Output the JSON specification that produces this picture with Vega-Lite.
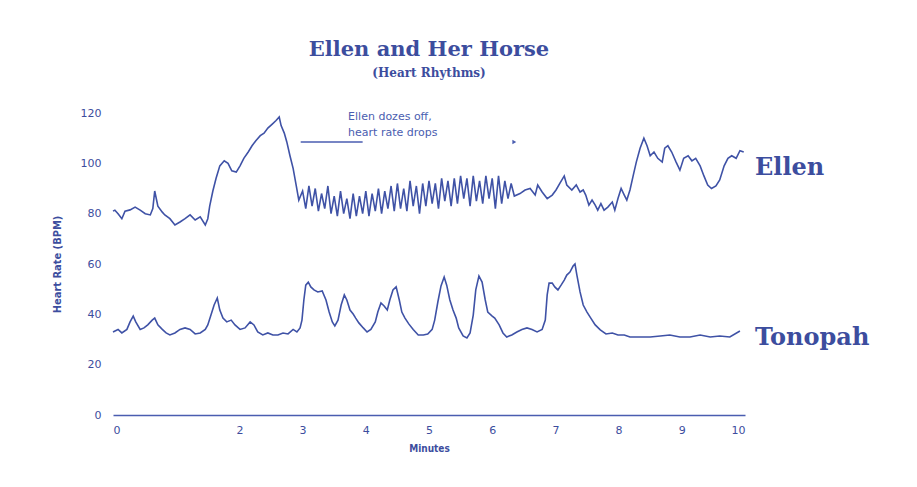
{
  "$schema": "https://vega.github.io/schema/vega-lite/v6.json",
  "width": 632,
  "height": 302,
  "autosize": "none",
  "padding": {"left": 113, "top": 113, "right": 172, "bottom": 72},
  "background": "white",
  "title": {
    "text": "Ellen and Her Horse",
    "subtitle": "(Heart Rhythms)",
    "anchor": "middle",
    "font": "DejaVu Serif",
    "fontSize": 21,
    "fontWeight": "bold",
    "color": "#3c4d9e",
    "subtitleFont": "DejaVu Serif",
    "subtitleFontSize": 12,
    "subtitleFontWeight": "bold",
    "subtitleColor": "#3c4d9e",
    "subtitlePadding": 8,
    "offset": 28
  },
  "config": {
    "view": {"stroke": null},
    "axis": {
      "labelColor": "#3c4d9e",
      "titleColor": "#3c4d9e",
      "labelFont": "DejaVu Sans",
      "titleFont": "DejaVu Sans Condensed",
      "labelFontSize": 11,
      "titleFontSize": 11,
      "titleFontWeight": "bold",
      "grid": false
    }
  },
  "datasets": {
    "hr": [
      {"series": "Ellen", "m": 0.00, "bpm": 81},
      {"series": "Ellen", "m": 0.03, "bpm": 81.4},
      {"series": "Ellen", "m": 0.08, "bpm": 80},
      {"series": "Ellen", "m": 0.14, "bpm": 78},
      {"series": "Ellen", "m": 0.19, "bpm": 81},
      {"series": "Ellen", "m": 0.27, "bpm": 81.5},
      {"series": "Ellen", "m": 0.35, "bpm": 82.6},
      {"series": "Ellen", "m": 0.43, "bpm": 81.4},
      {"series": "Ellen", "m": 0.51, "bpm": 80},
      {"series": "Ellen", "m": 0.59, "bpm": 79.5},
      {"series": "Ellen", "m": 0.63, "bpm": 82},
      {"series": "Ellen", "m": 0.66, "bpm": 89},
      {"series": "Ellen", "m": 0.71, "bpm": 83},
      {"series": "Ellen", "m": 0.78, "bpm": 80.6},
      {"series": "Ellen", "m": 0.82, "bpm": 79.5},
      {"series": "Ellen", "m": 0.90, "bpm": 78},
      {"series": "Ellen", "m": 0.98, "bpm": 75.5},
      {"series": "Ellen", "m": 1.06, "bpm": 76.7},
      {"series": "Ellen", "m": 1.14, "bpm": 78},
      {"series": "Ellen", "m": 1.22, "bpm": 79.5},
      {"series": "Ellen", "m": 1.30, "bpm": 77.5},
      {"series": "Ellen", "m": 1.38, "bpm": 78.7},
      {"series": "Ellen", "m": 1.46, "bpm": 75.5},
      {"series": "Ellen", "m": 1.50, "bpm": 78},
      {"series": "Ellen", "m": 1.53, "bpm": 83},
      {"series": "Ellen", "m": 1.58, "bpm": 89},
      {"series": "Ellen", "m": 1.63, "bpm": 94},
      {"series": "Ellen", "m": 1.69, "bpm": 99},
      {"series": "Ellen", "m": 1.76, "bpm": 101},
      {"series": "Ellen", "m": 1.82, "bpm": 100},
      {"series": "Ellen", "m": 1.88, "bpm": 97},
      {"series": "Ellen", "m": 1.95, "bpm": 96.5},
      {"series": "Ellen", "m": 2.01, "bpm": 99},
      {"series": "Ellen", "m": 2.07, "bpm": 102},
      {"series": "Ellen", "m": 2.14, "bpm": 104.5},
      {"series": "Ellen", "m": 2.20, "bpm": 107},
      {"series": "Ellen", "m": 2.26, "bpm": 109},
      {"series": "Ellen", "m": 2.33, "bpm": 111},
      {"series": "Ellen", "m": 2.39, "bpm": 112},
      {"series": "Ellen", "m": 2.45, "bpm": 114},
      {"series": "Ellen", "m": 2.52, "bpm": 115.6},
      {"series": "Ellen", "m": 2.58, "bpm": 117},
      {"series": "Ellen", "m": 2.63, "bpm": 118.4},
      {"series": "Ellen", "m": 2.66, "bpm": 115},
      {"series": "Ellen", "m": 2.71, "bpm": 112},
      {"series": "Ellen", "m": 2.75, "bpm": 108.5},
      {"series": "Ellen", "m": 2.80, "bpm": 103},
      {"series": "Ellen", "m": 2.85, "bpm": 98},
      {"series": "Ellen", "m": 2.90, "bpm": 91},
      {"series": "Ellen", "m": 2.94, "bpm": 85.4},
      {"series": "Ellen", "m": 3.00, "bpm": 89},
      {"series": "Ellen", "m": 3.05, "bpm": 82},
      {"series": "Ellen", "m": 3.10, "bpm": 91},
      {"series": "Ellen", "m": 3.15, "bpm": 83},
      {"series": "Ellen", "m": 3.20, "bpm": 90},
      {"series": "Ellen", "m": 3.25, "bpm": 81},
      {"series": "Ellen", "m": 3.30, "bpm": 88},
      {"series": "Ellen", "m": 3.35, "bpm": 82},
      {"series": "Ellen", "m": 3.40, "bpm": 91},
      {"series": "Ellen", "m": 3.45, "bpm": 80},
      {"series": "Ellen", "m": 3.50, "bpm": 87},
      {"series": "Ellen", "m": 3.55, "bpm": 79},
      {"series": "Ellen", "m": 3.60, "bpm": 89},
      {"series": "Ellen", "m": 3.65, "bpm": 80},
      {"series": "Ellen", "m": 3.70, "bpm": 86},
      {"series": "Ellen", "m": 3.75, "bpm": 78},
      {"series": "Ellen", "m": 3.80, "bpm": 88},
      {"series": "Ellen", "m": 3.85, "bpm": 79},
      {"series": "Ellen", "m": 3.90, "bpm": 87},
      {"series": "Ellen", "m": 3.95, "bpm": 80},
      {"series": "Ellen", "m": 4.00, "bpm": 89},
      {"series": "Ellen", "m": 4.05, "bpm": 79},
      {"series": "Ellen", "m": 4.10, "bpm": 88},
      {"series": "Ellen", "m": 4.15, "bpm": 81},
      {"series": "Ellen", "m": 4.20, "bpm": 90},
      {"series": "Ellen", "m": 4.25, "bpm": 80},
      {"series": "Ellen", "m": 4.30, "bpm": 89},
      {"series": "Ellen", "m": 4.35, "bpm": 82},
      {"series": "Ellen", "m": 4.40, "bpm": 91},
      {"series": "Ellen", "m": 4.45, "bpm": 81},
      {"series": "Ellen", "m": 4.50, "bpm": 92},
      {"series": "Ellen", "m": 4.55, "bpm": 82},
      {"series": "Ellen", "m": 4.60, "bpm": 90},
      {"series": "Ellen", "m": 4.65, "bpm": 81},
      {"series": "Ellen", "m": 4.70, "bpm": 93},
      {"series": "Ellen", "m": 4.75, "bpm": 83},
      {"series": "Ellen", "m": 4.80, "bpm": 91},
      {"series": "Ellen", "m": 4.85, "bpm": 80},
      {"series": "Ellen", "m": 4.90, "bpm": 92},
      {"series": "Ellen", "m": 4.95, "bpm": 83},
      {"series": "Ellen", "m": 5.00, "bpm": 93},
      {"series": "Ellen", "m": 5.05, "bpm": 84},
      {"series": "Ellen", "m": 5.10, "bpm": 92},
      {"series": "Ellen", "m": 5.15, "bpm": 82},
      {"series": "Ellen", "m": 5.20, "bpm": 94},
      {"series": "Ellen", "m": 5.25, "bpm": 85},
      {"series": "Ellen", "m": 5.30, "bpm": 93},
      {"series": "Ellen", "m": 5.35, "bpm": 83},
      {"series": "Ellen", "m": 5.40, "bpm": 94},
      {"series": "Ellen", "m": 5.45, "bpm": 84},
      {"series": "Ellen", "m": 5.50, "bpm": 95},
      {"series": "Ellen", "m": 5.55, "bpm": 86},
      {"series": "Ellen", "m": 5.60, "bpm": 94},
      {"series": "Ellen", "m": 5.65, "bpm": 83},
      {"series": "Ellen", "m": 5.70, "bpm": 95},
      {"series": "Ellen", "m": 5.75, "bpm": 85},
      {"series": "Ellen", "m": 5.80, "bpm": 93},
      {"series": "Ellen", "m": 5.85, "bpm": 84},
      {"series": "Ellen", "m": 5.90, "bpm": 95},
      {"series": "Ellen", "m": 5.95, "bpm": 86},
      {"series": "Ellen", "m": 6.00, "bpm": 94},
      {"series": "Ellen", "m": 6.05, "bpm": 82},
      {"series": "Ellen", "m": 6.10, "bpm": 95},
      {"series": "Ellen", "m": 6.15, "bpm": 84},
      {"series": "Ellen", "m": 6.20, "bpm": 93},
      {"series": "Ellen", "m": 6.25, "bpm": 86},
      {"series": "Ellen", "m": 6.30, "bpm": 92},
      {"series": "Ellen", "m": 6.35, "bpm": 87},
      {"series": "Ellen", "m": 6.44, "bpm": 88},
      {"series": "Ellen", "m": 6.52, "bpm": 89.4},
      {"series": "Ellen", "m": 6.60, "bpm": 90},
      {"series": "Ellen", "m": 6.68, "bpm": 87.4},
      {"series": "Ellen", "m": 6.72, "bpm": 91.4},
      {"series": "Ellen", "m": 6.79, "bpm": 88.6},
      {"series": "Ellen", "m": 6.87, "bpm": 86},
      {"series": "Ellen", "m": 6.95, "bpm": 87.4},
      {"series": "Ellen", "m": 7.01, "bpm": 89.4},
      {"series": "Ellen", "m": 7.07, "bpm": 92},
      {"series": "Ellen", "m": 7.14, "bpm": 95},
      {"series": "Ellen", "m": 7.18, "bpm": 91.4},
      {"series": "Ellen", "m": 7.26, "bpm": 89.4},
      {"series": "Ellen", "m": 7.33, "bpm": 91.4},
      {"series": "Ellen", "m": 7.39, "bpm": 88.6},
      {"series": "Ellen", "m": 7.44, "bpm": 89.4},
      {"series": "Ellen", "m": 7.48, "bpm": 87.4},
      {"series": "Ellen", "m": 7.53, "bpm": 83.4},
      {"series": "Ellen", "m": 7.58, "bpm": 85.4},
      {"series": "Ellen", "m": 7.63, "bpm": 83.4},
      {"series": "Ellen", "m": 7.67, "bpm": 81.4},
      {"series": "Ellen", "m": 7.72, "bpm": 84},
      {"series": "Ellen", "m": 7.77, "bpm": 81.4},
      {"series": "Ellen", "m": 7.83, "bpm": 82.6},
      {"series": "Ellen", "m": 7.90, "bpm": 84.6},
      {"series": "Ellen", "m": 7.94, "bpm": 81.4},
      {"series": "Ellen", "m": 7.99, "bpm": 86},
      {"series": "Ellen", "m": 8.04, "bpm": 90},
      {"series": "Ellen", "m": 8.09, "bpm": 87.4},
      {"series": "Ellen", "m": 8.13, "bpm": 85.4},
      {"series": "Ellen", "m": 8.18, "bpm": 89.4},
      {"series": "Ellen", "m": 8.23, "bpm": 95},
      {"series": "Ellen", "m": 8.28, "bpm": 100.5},
      {"series": "Ellen", "m": 8.34, "bpm": 106},
      {"series": "Ellen", "m": 8.40, "bpm": 110},
      {"series": "Ellen", "m": 8.45, "bpm": 107},
      {"series": "Ellen", "m": 8.50, "bpm": 103},
      {"series": "Ellen", "m": 8.56, "bpm": 104.5},
      {"series": "Ellen", "m": 8.62, "bpm": 102},
      {"series": "Ellen", "m": 8.69, "bpm": 100.5},
      {"series": "Ellen", "m": 8.73, "bpm": 106},
      {"series": "Ellen", "m": 8.78, "bpm": 107},
      {"series": "Ellen", "m": 8.84, "bpm": 104.5},
      {"series": "Ellen", "m": 8.91, "bpm": 100.5},
      {"series": "Ellen", "m": 8.97, "bpm": 97.3},
      {"series": "Ellen", "m": 9.03, "bpm": 102},
      {"series": "Ellen", "m": 9.10, "bpm": 103},
      {"series": "Ellen", "m": 9.16, "bpm": 101},
      {"series": "Ellen", "m": 9.22, "bpm": 102},
      {"series": "Ellen", "m": 9.29, "bpm": 99},
      {"series": "Ellen", "m": 9.35, "bpm": 95},
      {"series": "Ellen", "m": 9.41, "bpm": 91.4},
      {"series": "Ellen", "m": 9.47, "bpm": 90},
      {"series": "Ellen", "m": 9.54, "bpm": 91},
      {"series": "Ellen", "m": 9.60, "bpm": 93.4},
      {"series": "Ellen", "m": 9.67, "bpm": 99},
      {"series": "Ellen", "m": 9.73, "bpm": 102},
      {"series": "Ellen", "m": 9.79, "bpm": 103},
      {"series": "Ellen", "m": 9.86, "bpm": 102},
      {"series": "Ellen", "m": 9.92, "bpm": 105},
      {"series": "Ellen", "m": 9.98, "bpm": 104.5},
      {"series": "Tonopah", "m": 0.00, "bpm": 33},
      {"series": "Tonopah", "m": 0.08, "bpm": 34},
      {"series": "Tonopah", "m": 0.14, "bpm": 32.6},
      {"series": "Tonopah", "m": 0.22, "bpm": 34},
      {"series": "Tonopah", "m": 0.27, "bpm": 37},
      {"series": "Tonopah", "m": 0.32, "bpm": 39.3},
      {"series": "Tonopah", "m": 0.36, "bpm": 37},
      {"series": "Tonopah", "m": 0.43, "bpm": 34},
      {"series": "Tonopah", "m": 0.49, "bpm": 34.6},
      {"series": "Tonopah", "m": 0.55, "bpm": 35.8},
      {"series": "Tonopah", "m": 0.62, "bpm": 37.7},
      {"series": "Tonopah", "m": 0.66, "bpm": 38.5},
      {"series": "Tonopah", "m": 0.71, "bpm": 35.8},
      {"series": "Tonopah", "m": 0.78, "bpm": 34},
      {"series": "Tonopah", "m": 0.84, "bpm": 32.6},
      {"series": "Tonopah", "m": 0.90, "bpm": 31.8},
      {"series": "Tonopah", "m": 0.98, "bpm": 32.6},
      {"series": "Tonopah", "m": 1.06, "bpm": 34},
      {"series": "Tonopah", "m": 1.14, "bpm": 34.6},
      {"series": "Tonopah", "m": 1.22, "bpm": 34},
      {"series": "Tonopah", "m": 1.30, "bpm": 32.2},
      {"series": "Tonopah", "m": 1.38, "bpm": 32.6},
      {"series": "Tonopah", "m": 1.46, "bpm": 34},
      {"series": "Tonopah", "m": 1.50, "bpm": 35.8},
      {"series": "Tonopah", "m": 1.55, "bpm": 39.7},
      {"series": "Tonopah", "m": 1.60, "bpm": 43.7},
      {"series": "Tonopah", "m": 1.65, "bpm": 46.5},
      {"series": "Tonopah", "m": 1.69, "bpm": 41.7},
      {"series": "Tonopah", "m": 1.74, "bpm": 38.5},
      {"series": "Tonopah", "m": 1.80, "bpm": 37},
      {"series": "Tonopah", "m": 1.87, "bpm": 37.7},
      {"series": "Tonopah", "m": 1.93, "bpm": 35.8},
      {"series": "Tonopah", "m": 2.01, "bpm": 34},
      {"series": "Tonopah", "m": 2.09, "bpm": 34.6},
      {"series": "Tonopah", "m": 2.17, "bpm": 37},
      {"series": "Tonopah", "m": 2.23, "bpm": 35.8},
      {"series": "Tonopah", "m": 2.29, "bpm": 33},
      {"series": "Tonopah", "m": 2.37, "bpm": 31.8},
      {"series": "Tonopah", "m": 2.45, "bpm": 32.6},
      {"series": "Tonopah", "m": 2.53, "bpm": 31.8},
      {"series": "Tonopah", "m": 2.61, "bpm": 31.8},
      {"series": "Tonopah", "m": 2.69, "bpm": 32.6},
      {"series": "Tonopah", "m": 2.77, "bpm": 32.2},
      {"series": "Tonopah", "m": 2.85, "bpm": 34},
      {"series": "Tonopah", "m": 2.91, "bpm": 33},
      {"series": "Tonopah", "m": 2.96, "bpm": 34.6},
      {"series": "Tonopah", "m": 2.99, "bpm": 37.7},
      {"series": "Tonopah", "m": 3.02, "bpm": 45.7},
      {"series": "Tonopah", "m": 3.05, "bpm": 51.6},
      {"series": "Tonopah", "m": 3.09, "bpm": 52.8},
      {"series": "Tonopah", "m": 3.13, "bpm": 50.9},
      {"series": "Tonopah", "m": 3.18, "bpm": 49.7},
      {"series": "Tonopah", "m": 3.24, "bpm": 48.9},
      {"series": "Tonopah", "m": 3.31, "bpm": 49.3},
      {"series": "Tonopah", "m": 3.37, "bpm": 45.7},
      {"series": "Tonopah", "m": 3.42, "bpm": 40.9},
      {"series": "Tonopah", "m": 3.47, "bpm": 37},
      {"series": "Tonopah", "m": 3.51, "bpm": 35.4},
      {"series": "Tonopah", "m": 3.56, "bpm": 37.7},
      {"series": "Tonopah", "m": 3.61, "bpm": 43.7},
      {"series": "Tonopah", "m": 3.66, "bpm": 47.7},
      {"series": "Tonopah", "m": 3.70, "bpm": 45.7},
      {"series": "Tonopah", "m": 3.75, "bpm": 41.7},
      {"series": "Tonopah", "m": 3.80, "bpm": 40.1},
      {"series": "Tonopah", "m": 3.84, "bpm": 38.5},
      {"series": "Tonopah", "m": 3.89, "bpm": 36.6},
      {"series": "Tonopah", "m": 3.96, "bpm": 34.6},
      {"series": "Tonopah", "m": 4.02, "bpm": 33},
      {"series": "Tonopah", "m": 4.08, "bpm": 34},
      {"series": "Tonopah", "m": 4.15, "bpm": 37},
      {"series": "Tonopah", "m": 4.19, "bpm": 40.9},
      {"series": "Tonopah", "m": 4.24, "bpm": 44.5},
      {"series": "Tonopah", "m": 4.29, "bpm": 43.3},
      {"series": "Tonopah", "m": 4.34, "bpm": 41.7},
      {"series": "Tonopah", "m": 4.38, "bpm": 45.7},
      {"series": "Tonopah", "m": 4.43, "bpm": 49.7},
      {"series": "Tonopah", "m": 4.48, "bpm": 50.9},
      {"series": "Tonopah", "m": 4.53, "bpm": 45.7},
      {"series": "Tonopah", "m": 4.57, "bpm": 40.9},
      {"series": "Tonopah", "m": 4.62, "bpm": 38.5},
      {"series": "Tonopah", "m": 4.68, "bpm": 36.2},
      {"series": "Tonopah", "m": 4.75, "bpm": 34},
      {"series": "Tonopah", "m": 4.83, "bpm": 31.8},
      {"series": "Tonopah", "m": 4.91, "bpm": 31.8},
      {"series": "Tonopah", "m": 4.98, "bpm": 32.2},
      {"series": "Tonopah", "m": 5.05, "bpm": 34},
      {"series": "Tonopah", "m": 5.09, "bpm": 37.7},
      {"series": "Tonopah", "m": 5.14, "bpm": 44.9},
      {"series": "Tonopah", "m": 5.19, "bpm": 51.3},
      {"series": "Tonopah", "m": 5.24, "bpm": 54.8},
      {"series": "Tonopah", "m": 5.28, "bpm": 51.6},
      {"series": "Tonopah", "m": 5.33, "bpm": 45.7},
      {"series": "Tonopah", "m": 5.38, "bpm": 41.7},
      {"series": "Tonopah", "m": 5.43, "bpm": 38.5},
      {"series": "Tonopah", "m": 5.47, "bpm": 34.6},
      {"series": "Tonopah", "m": 5.54, "bpm": 31.4},
      {"series": "Tonopah", "m": 5.60, "bpm": 30.6},
      {"series": "Tonopah", "m": 5.65, "bpm": 32.6},
      {"series": "Tonopah", "m": 5.70, "bpm": 39.7},
      {"series": "Tonopah", "m": 5.74, "bpm": 49.7},
      {"series": "Tonopah", "m": 5.79, "bpm": 55.2},
      {"series": "Tonopah", "m": 5.84, "bpm": 52.8},
      {"series": "Tonopah", "m": 5.89, "bpm": 45.7},
      {"series": "Tonopah", "m": 5.93, "bpm": 40.9},
      {"series": "Tonopah", "m": 6.00, "bpm": 39.3},
      {"series": "Tonopah", "m": 6.04, "bpm": 38.5},
      {"series": "Tonopah", "m": 6.11, "bpm": 35.8},
      {"series": "Tonopah", "m": 6.17, "bpm": 32.6},
      {"series": "Tonopah", "m": 6.23, "bpm": 31},
      {"series": "Tonopah", "m": 6.31, "bpm": 31.8},
      {"series": "Tonopah", "m": 6.39, "bpm": 33},
      {"series": "Tonopah", "m": 6.47, "bpm": 34},
      {"series": "Tonopah", "m": 6.55, "bpm": 34.6},
      {"series": "Tonopah", "m": 6.63, "bpm": 34},
      {"series": "Tonopah", "m": 6.71, "bpm": 33},
      {"series": "Tonopah", "m": 6.79, "bpm": 34},
      {"series": "Tonopah", "m": 6.84, "bpm": 37.7},
      {"series": "Tonopah", "m": 6.87, "bpm": 47.7},
      {"series": "Tonopah", "m": 6.90, "bpm": 52.4},
      {"series": "Tonopah", "m": 6.95, "bpm": 52.4},
      {"series": "Tonopah", "m": 6.99, "bpm": 50.9},
      {"series": "Tonopah", "m": 7.04, "bpm": 49.7},
      {"series": "Tonopah", "m": 7.09, "bpm": 51.6},
      {"series": "Tonopah", "m": 7.14, "bpm": 53.6},
      {"series": "Tonopah", "m": 7.18, "bpm": 55.6},
      {"series": "Tonopah", "m": 7.23, "bpm": 56.8},
      {"series": "Tonopah", "m": 7.28, "bpm": 59.2},
      {"series": "Tonopah", "m": 7.31, "bpm": 60},
      {"series": "Tonopah", "m": 7.34, "bpm": 55.6},
      {"series": "Tonopah", "m": 7.39, "bpm": 48.9},
      {"series": "Tonopah", "m": 7.44, "bpm": 43.7},
      {"series": "Tonopah", "m": 7.50, "bpm": 40.9},
      {"series": "Tonopah", "m": 7.56, "bpm": 38.5},
      {"series": "Tonopah", "m": 7.63, "bpm": 35.8},
      {"series": "Tonopah", "m": 7.71, "bpm": 33.8},
      {"series": "Tonopah", "m": 7.80, "bpm": 32.2},
      {"series": "Tonopah", "m": 7.90, "bpm": 32.6},
      {"series": "Tonopah", "m": 7.99, "bpm": 31.8},
      {"series": "Tonopah", "m": 8.09, "bpm": 31.8},
      {"series": "Tonopah", "m": 8.18, "bpm": 31},
      {"series": "Tonopah", "m": 8.34, "bpm": 31},
      {"series": "Tonopah", "m": 8.50, "bpm": 31},
      {"series": "Tonopah", "m": 8.66, "bpm": 31.4},
      {"series": "Tonopah", "m": 8.81, "bpm": 31.8},
      {"series": "Tonopah", "m": 8.97, "bpm": 31},
      {"series": "Tonopah", "m": 9.13, "bpm": 31},
      {"series": "Tonopah", "m": 9.29, "bpm": 31.8},
      {"series": "Tonopah", "m": 9.45, "bpm": 31},
      {"series": "Tonopah", "m": 9.60, "bpm": 31.4},
      {"series": "Tonopah", "m": 9.76, "bpm": 31},
      {"series": "Tonopah", "m": 9.92, "bpm": 33.4}
    ],
    "labels": [
      {"series": "Ellen", "m": 10, "bpm": 98},
      {"series": "Tonopah", "m": 10, "bpm": 30.6}
    ],
    "note": [
      {"text": "Ellen dozes off,", "m": 3.72, "bpm": 118.6},
      {"text": "heart rate drops", "m": 3.72, "bpm": 112.2}
    ],
    "arrow": [
      {"m0": 2.97, "m1": 3.95, "bpm": 108.5}
    ],
    "tip": [
      {"m": 6.35, "bpm": 108.5}
    ]
  },
  "layer": [
    {
      "data": {"name": "hr"},
      "mark": {"type": "line", "strokeWidth": 1.6, "interpolate": "linear"},
      "encoding": {
        "x": {
          "field": "m", "type": "quantitative",
          "scale": {"domain": [0, 10], "nice": false},
          "axis": {
            "title": "Minutes",
            "values": [0, 2, 3, 4, 5, 6, 7, 8, 9, 10],
            "format": "d",
            "domainColor": "#4a5db0",
            "domainWidth": 1.5,
            "ticks": false,
            "labelPadding": 9,
            "titlePadding": 8,
            "titleFontSize": 10
          }
        },
        "y": {
          "field": "bpm", "type": "quantitative",
          "scale": {"domain": [0, 120], "nice": false},
          "axis": {
            "title": "Heart Rate (BPM)",
            "values": [0, 20, 40, 60, 80, 100, 120],
            "domain": false,
            "ticks": false,
            "labelPadding": 12,
            "titlePadding": 18
          }
        },
        "detail": {"field": "series", "type": "nominal"},
        "color": {"value": "#3f52a6"}
      }
    },
    {
      "data": {"name": "labels"},
      "mark": {"type": "text", "align": "left", "baseline": "middle", "dx": 10, "font": "DejaVu Serif", "fontSize": 24, "fontWeight": "bold", "color": "#3c4d9e"},
      "encoding": {
        "x": {"field": "m", "type": "quantitative"},
        "y": {"field": "bpm", "type": "quantitative"},
        "text": {"field": "series", "type": "nominal"}
      }
    },
    {
      "data": {"name": "note"},
      "mark": {"type": "text", "align": "left", "baseline": "middle", "font": "DejaVu Sans", "fontSize": 11, "color": "#4a5db0"},
      "encoding": {
        "x": {"field": "m", "type": "quantitative"},
        "y": {"field": "bpm", "type": "quantitative"},
        "text": {"field": "text", "type": "nominal"}
      }
    },
    {
      "data": {"name": "arrow"},
      "mark": {"type": "rule", "strokeWidth": 1.5, "color": "#4a5db0"},
      "encoding": {
        "x": {"field": "m0", "type": "quantitative"},
        "x2": {"field": "m1"},
        "y": {"field": "bpm", "type": "quantitative"}
      }
    },
    {
      "data": {"name": "tip"},
      "mark": {"type": "point", "shape": "triangle-right", "filled": true, "size": 20, "color": "#4a5db0", "opacity": 1},
      "encoding": {
        "x": {"field": "m", "type": "quantitative"},
        "y": {"field": "bpm", "type": "quantitative"}
      }
    }
  ]
}
